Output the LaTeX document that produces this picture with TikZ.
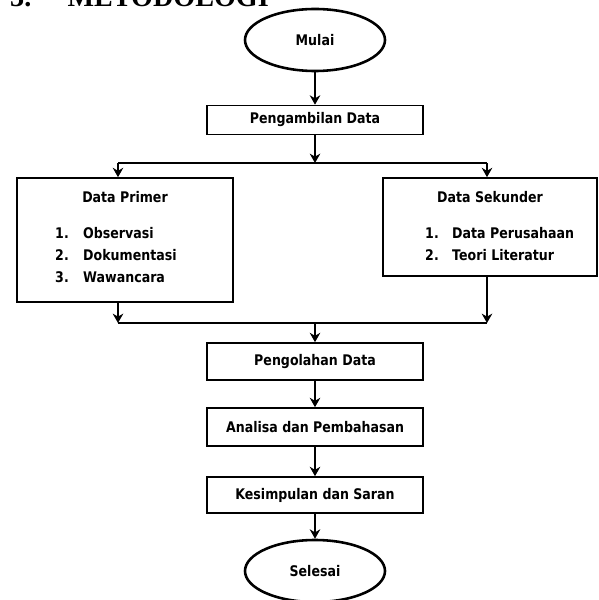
\documentclass[tikz,border=0pt]{standalone}
\usepackage{fontspec}
\setmainfont{DejaVu Sans}[FakeStretch=0.86]
\newfontfamily\titlefont{Liberation Serif}
\usetikzlibrary{shapes.geometric,arrows.meta}

\begin{document}
\begin{tikzpicture}[x=0.03cm, y=-0.03cm, font=\bfseries\fontsize{12.5}{14}\selectfont,
	box/.style={draw, line width=1.4pt, minimum width=6.48cm, inner sep=0pt},
	oval/.style={draw, ellipse, line width=2.2pt, minimum width=4.2cm, minimum height=1.86cm, inner sep=0pt},
	arr/.style={line width=2.4pt, -{Stealth[length=8pt,width=9pt]}},
	ln/.style={line width=1.8pt}]
		\useasboundingbox (0,0) rectangle (598,600);

		\node[anchor=base west, inner sep=0pt, font=\titlefont\bfseries\fontsize{24}{26}\selectfont] (judul) at (10,7) {3.\hspace{31pt}METODOLOGI};

		\node[oval] (mulai) at (315,40) {Mulai};
		\node[box, minimum height=0.87cm] (ambil) at (315,120) {Pengambilan Data};

		\node[box, minimum height=3.72cm] (primer) at (125,240) {};
		\node[box, minimum width=6.42cm, minimum height=2.94cm] (sekunder) at (490,227) {};

		\node (p0) at (125,197) {Data Primer};
		\node[anchor=west, inner sep=0pt] (p1n) at (55,233) {1.};
		\node[anchor=west, inner sep=0pt] (p1) at (83,233) {Observasi};
		\node[anchor=west, inner sep=0pt] (p2n) at (55,255) {2.};
		\node[anchor=west, inner sep=0pt] (p2) at (83,255) {Dokumentasi};
		\node[anchor=west, inner sep=0pt] (p3n) at (55,277) {3.};
		\node[anchor=west, inner sep=0pt] (p3) at (83,277) {Wawancara};

		\node (s0) at (490,197) {Data Sekunder};
		\node[anchor=west, inner sep=0pt] (s1n) at (425,233) {1.};
		\node[anchor=west, inner sep=0pt] (s1) at (452,233) {Data Perusahaan};
		\node[anchor=west, inner sep=0pt] (s2n) at (425,255) {2.};
		\node[anchor=west, inner sep=0pt] (s2) at (452,255) {Teori Literatur};

		\node[box, minimum height=1.11cm] (olah) at (315,361.5) {Pengolahan Data};
		\node[box, minimum height=1.14cm] (analisa) at (315,427) {Analisa dan Pembahasan};
		\node[box, minimum height=1.08cm] (simpul) at (315,495) {Kesimpulan dan Saran};
		\node[oval] (selesai) at (315,571) {Selesai};

		\coordinate (bagi) at (315,163);
		\coordinate (bagiL) at (118,163);
		\coordinate (bagiR) at (487,163);
		\coordinate (gabung) at (315,323);
		\coordinate (gabungL) at (118,323);
		\coordinate (gabungR) at (487,323);

		\draw[arr] (mulai) -- (ambil);
		\draw[arr] (ambil) -- (bagi);
		\draw[ln] (bagiL) -- (bagiR);
		\draw[arr] (bagiL) -- (bagiL |- primer.north);
		\draw[arr] (bagiR) -- (bagiR |- sekunder.north);

		\draw[arr] (gabungL |- primer.south) -- (gabungL);
		\draw[arr] (gabungR |- sekunder.south) -- (gabungR);
		\draw[ln] (gabungL) -- (gabungR);
		\draw[arr] (gabung) -- (olah);

		\draw[arr] (olah) -- (analisa);
		\draw[arr] (analisa) -- (simpul);
		\draw[arr] (simpul) -- (selesai);
\end{tikzpicture}
\end{document}
